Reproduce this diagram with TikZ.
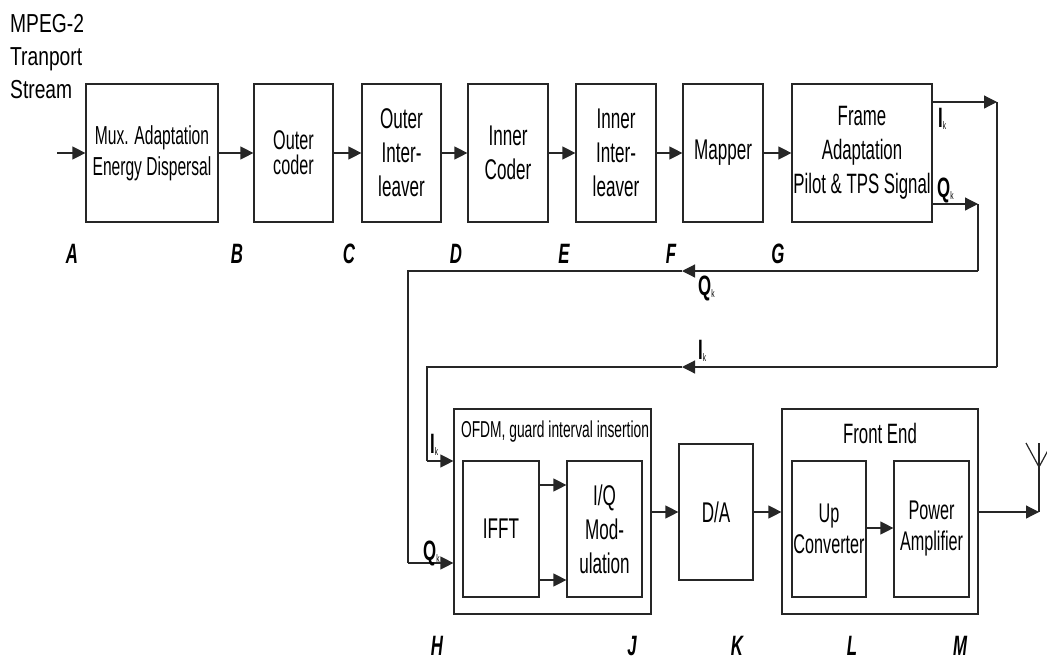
\documentclass[tikz,border=0pt]{standalone}
\usepackage{fontspec}
\setmainfont{Liberation Sans}[FakeStretch=0.6]
\newfontfamily\widesans{Liberation Sans}[FakeStretch=0.74]
\usetikzlibrary{arrows.meta}
\newcommand{\sigk}[1]{{\bfseries #1}\raisebox{-2pt}{\fontsize{11}{11}\selectfont k}}
\begin{document}
\begin{tikzpicture}[x=1pt,y=-1pt,
  box/.style={draw=black!85, line width=1.2pt, inner sep=0pt, align=center, font=\fontsize{28.5}{34}\selectfont},
  arr/.style={-{Triangle[length=13pt,width=13pt]}, line width=1.2pt, draw=black!85},
  ln/.style={line width=1.2pt, draw=black!85},
  lab/.style={font=\fontsize{28}{28}\selectfont\bfseries\itshape, anchor=base, inner sep=0pt},
  sig/.style={font=\fontsize{28}{28}\selectfont, anchor=base west, inner sep=0pt},
  ttl/.style={inner sep=0pt}]
\useasboundingbox (0,0) rectangle (1047,659);
% top row
\node[box, minimum width=132pt, minimum height=138pt, font=\fontsize{26}{31}\selectfont] (mux) at (152,153) {Mux. Adaptation\\Energy Dispersal};
\node[box, minimum width=79pt, minimum height=138pt, font=\fontsize{27}{25}\selectfont] (oc) at (293.5,153) {Outer\\coder};
\node[box, minimum width=79pt, minimum height=138pt] (oil) at (401.5,153) {Outer\\Inter-\\leaver};
\node[box, minimum width=80pt, minimum height=138pt] (ic) at (508,153) {Inner\\Coder};
\node[box, minimum width=80pt, minimum height=138pt] (iil) at (616,153) {Inner\\Inter-\\leaver};
\node[box, minimum width=80pt, minimum height=138pt] (map) at (723,153) {Mapper};
\node[box, minimum width=140pt, minimum height=138pt, font=\fontsize{28}{34}\selectfont] (frame) at (862,153) {Frame\\Adaptation\\Pilot \& TPS Signal};
% input text
\node[anchor=north west, align=left, inner sep=0pt, font=\widesans\fontsize{26}{33}\selectfont] (mpeg) at (10,14) {MPEG-2\\Tranport\\Stream};
\coordinate (in) at (57,153);
\draw[arr] (in) -- (mux.west);
\draw[arr] (mux.east) -- (oc.west);
\draw[arr] (oc.east) -- (oil.west);
\draw[arr] (oil.east) -- (ic.west);
\draw[arr] (ic.east) -- (iil.west);
\draw[arr] (iil.east) -- (map.west);
\draw[arr] (map.east) -- (frame.west);
% bottom row
\node[box, minimum width=197pt, minimum height=205pt] (ofdm) at (552.5,511.5) {};
\node[ttl, font=\fontsize{23}{23}\selectfont] (ofdmt) at (555,432) {OFDM, guard interval insertion};
\node[box, minimum width=76pt, minimum height=136pt] (ifft) at (501,529) {IFFT};
\node[box, minimum width=75pt, minimum height=136pt] (iq) at (604.5,529) {I/Q\\Mod-\\ulation};
\node[box, minimum width=74pt, minimum height=136pt] (da) at (716,512) {D/A};
\node[box, minimum width=196pt, minimum height=205pt] (fe) at (880,511.5) {};
\node[ttl, font=\fontsize{28}{28}\selectfont] (fet) at (880,433) {Front End};
\node[box, minimum width=74pt, minimum height=136pt, font=\fontsize{27}{31}\selectfont] (up) at (829,529) {Up\\Converter};
\node[box, minimum width=75pt, minimum height=136pt, font=\fontsize{27}{31}\selectfont] (pa) at (931.5,529) {Power\\Amplifier};
\draw[arr] (ifft.east |- 0,485) -- (iq.west |- 0,485);
\draw[arr] (ifft.east |- 0,580) -- (iq.west |- 0,580);
\draw[arr] (ofdm.east |- da) -- (da.west);
\draw[arr] (da.east) -- (fe.west |- da);
\draw[arr] (up.east |- 0,528) -- (pa.west |- 0,528);
% antenna
\coordinate (ant) at (1039,512);
\coordinate (anttop) at (1039,443);
\coordinate (antfork) at (1039,467);
\coordinate (antl) at (1026,443);
\coordinate (antr) at (1052,443);
\draw[arr] (fe.east |- ant) -- (ant);
\draw[ln] (ant) -- (anttop);
\draw[ln] (antl) -- (antfork) -- (antr);
% I_k path
\coordinate (ikout) at (997,102);
\coordinate (ikturn) at (997,367);
\coordinate (ikmid) at (682,367);
\coordinate (ikleft) at (427,367);
\coordinate (ikin) at (427,461);
\draw[arr] (frame.east |- ikout) -- (ikout);
\draw[ln] (ikout) -- (ikturn);
\draw[arr] (ikturn) -- (ikmid);
\draw[ln] (ikmid) -- (ikleft) -- (ikin);
\draw[arr] (ikin) -- (ofdm.west |- ikin);
% Q_k path
\coordinate (qkout) at (978,204);
\coordinate (qkturn) at (978,271);
\coordinate (qkmid) at (682,271);
\coordinate (qkleft) at (408,271);
\coordinate (qkin) at (408,563);
\draw[arr] (frame.east |- qkout) -- (qkout);
\draw[ln] (qkout) -- (qkturn);
\draw[arr] (qkturn) -- (qkmid);
\draw[ln] (qkmid) -- (qkleft) -- (qkin);
\draw[arr] (qkin) -- (ofdm.west |- qkin);
% signal labels
\node[sig] (l1) at (938,127) {\sigk{I}};
\node[sig] (l2) at (937,197) {\sigk{Q}};
\node[sig] (l3) at (698,295) {\sigk{Q}};
\node[sig] (l4) at (698,359) {\sigk{I}};
\node[sig] (l5) at (430,453) {\sigk{I}};
\node[sig] (l6) at (423,560) {\sigk{Q}};
% point labels
\node[lab] (A) at (72,263) {A};
\node[lab] (B) at (237,263) {B};
\node[lab] (C) at (349,263) {C};
\node[lab] (D) at (456,263) {D};
\node[lab] (E) at (564,263) {E};
\node[lab] (F) at (671,263) {F};
\node[lab] (G) at (778,263) {G};
\node[lab] (H) at (437,655) {H};
\node[lab] (J) at (632,655) {J};
\node[lab] (K) at (737,655) {K};
\node[lab] (L) at (852,655) {L};
\node[lab] (M) at (960,655) {M};
\end{tikzpicture}
\end{document}
